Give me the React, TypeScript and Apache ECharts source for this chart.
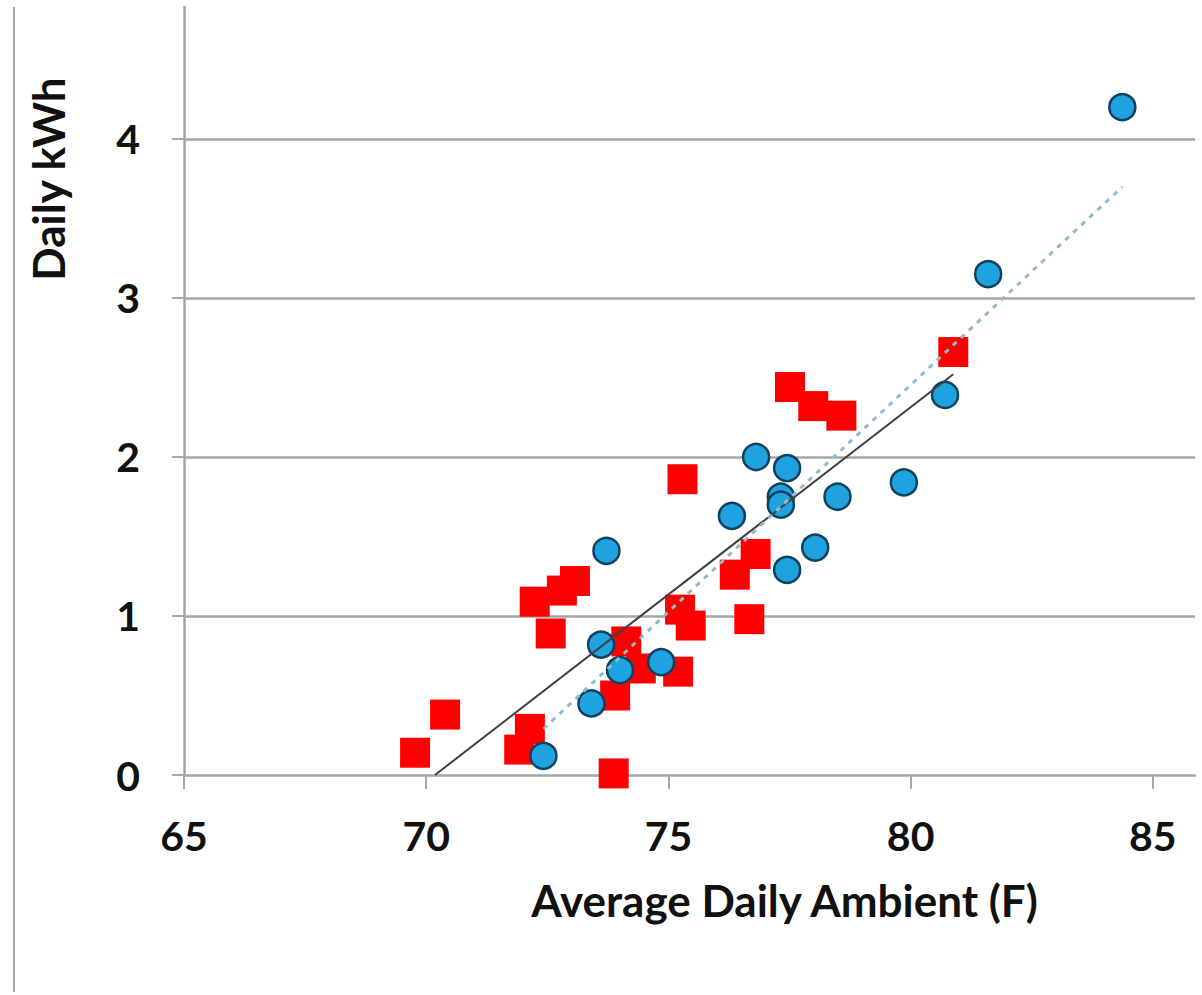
import React, { useEffect, useRef } from "react";
import * as echarts from "echarts";

// Red squares (series A): [Average Daily Ambient (F), Daily kWh]
const redX = [69.77, 70.39, 71.92, 72.14, 72.24, 72.57, 72.8, 73.07, 73.87, 74.13, 74.43, 73.9, 75.2, 75.24, 75.46, 75.29, 76.37, 76.8, 76.67, 77.51, 77.99, 78.57, 80.88];
const redY = [0.14, 0.38, 0.16, 0.29, 1.09, 0.89, 1.16, 1.22, 0.01, 0.84, 0.67, 0.5, 0.65, 1.04, 0.94, 1.86, 1.26, 1.39, 0.98, 2.44, 2.32, 2.26, 2.66];

// Blue circles (series B)
const blueX = [84.37, 81.6, 80.71, 79.86, 78.49, 78.03, 77.45, 77.45, 77.32, 77.32, 76.81, 76.31, 73.72, 74.85, 74.0, 73.61, 73.41, 72.42];
const blueY = [4.2, 3.15, 2.39, 1.84, 1.75, 1.43, 1.29, 1.93, 1.75, 1.7, 2.0, 1.63, 1.41, 0.71, 0.66, 0.82, 0.45, 0.12];

// Trend lines (endpoints)
const redTrendX = [70.18, 80.88];
const redTrendY = [0, 2.52];
const blueTrendX = [72.42, 84.37];
const blueTrendY = [0.29, 3.7];

const xTicks = [65, 70, 75, 80, 85];
const yTicks = [0, 1, 2, 3, 4];

const FONT = "Lato, 'Open Sans', sans-serif";

function zip(xs: number[], ys: number[]) {
  return xs.map((x, i) => [x, ys[i]]);
}

export default function App() {
  const ref = useRef<HTMLDivElement>(null);
  useEffect(() => {
    if (!ref.current) return;
    const chart = echarts.init(ref.current, null, { renderer: "svg" });
    const gridColor = "#a6a6a6";
    chart.setOption({
      animation: false,
      backgroundColor: "#ffffff",
      grid: { left: 184, top: 7, right: 7, bottom: 220, containLabel: false },
      xAxis: {
        type: "value",
        min: 65,
        max: 85.87,
        interval: 5,
        name: "Average Daily Ambient (F)",
        nameLocation: "middle",
        nameGap: 103,
        nameTextStyle: {
          fontFamily: FONT,
          fontWeight: "bold",
          fontSize: 44,
          color: "#111",
          padding: [0, 0, 0, 190],
        },
        axisLine: { show: true, lineStyle: { color: gridColor, width: 2.5 } },
        axisTick: { show: true, length: 14, customValues: xTicks, lineStyle: { color: gridColor, width: 2 } },
        axisLabel: {
          customValues: xTicks,
          margin: 40,
          fontFamily: FONT,
          fontWeight: "bold",
          fontSize: 41,
          color: "#111",
        },
        splitLine: { show: false },
      },
      yAxis: {
        type: "value",
        min: 0,
        max: 4.83,
        interval: 1,
        axisLine: { show: true, lineStyle: { color: gridColor, width: 2.5 } },
        axisTick: { show: true, length: 12, customValues: yTicks, lineStyle: { color: gridColor, width: 2 } },
        axisLabel: {
          customValues: yTicks,
          margin: 44,
          fontFamily: FONT,
          fontWeight: "bold",
          fontSize: 41,
          color: "#111",
        },
        splitLine: {
          show: true,
          showMinLine: false,
          showMaxLine: true,
          lineStyle: { color: gridColor, width: 2.5 },
        },
      },
      graphic: [
        {
          type: "line",
          shape: { x1: 14, y1: 7, x2: 14, y2: 992 },
          style: { stroke: gridColor, lineWidth: 2 },
        },
        {
          type: "text",
          x: 48,
          y: 179,
          rotation: Math.PI / 2,
          style: {
            text: "Daily kWh",
            fontFamily: FONT,
            fontWeight: "bold",
            fontSize: 44,
            fill: "#111",
            textAlign: "center",
            textVerticalAlign: "middle",
          },
        },
      ],
      series: [
        {
          type: "scatter",
          name: "A",
          symbol: "rect",
          symbolSize: 30,
          itemStyle: { color: "#ff0000", opacity: 1 },
          data: zip(redX, redY),
          z: 2,
        },
        {
          type: "scatter",
          name: "B",
          symbol: "circle",
          symbolSize: 26,
          itemStyle: { color: "#1fa3e0", borderColor: "#10415f", borderWidth: 2.5, opacity: 1 },
          data: zip(blueX, blueY),
          z: 3,
        },
        {
          type: "line",
          name: "Trend A",
          data: zip(redTrendX, redTrendY),
          symbol: "none",
          lineStyle: { color: "#404040", width: 2 },
          z: 4,
        },
        {
          type: "line",
          name: "Trend B",
          data: zip(blueTrendX, blueTrendY),
          symbol: "none",
          lineStyle: { color: "#8fbccc", width: 3, type: [5, 6] },
          z: 4,
        },
      ],
    });
    return () => chart.dispose();
  }, []);
  return (
    <div
      ref={ref}
      style={{ position: "absolute", left: 0, top: 0, width: 1202, height: 995 }}
    />
  );
}
